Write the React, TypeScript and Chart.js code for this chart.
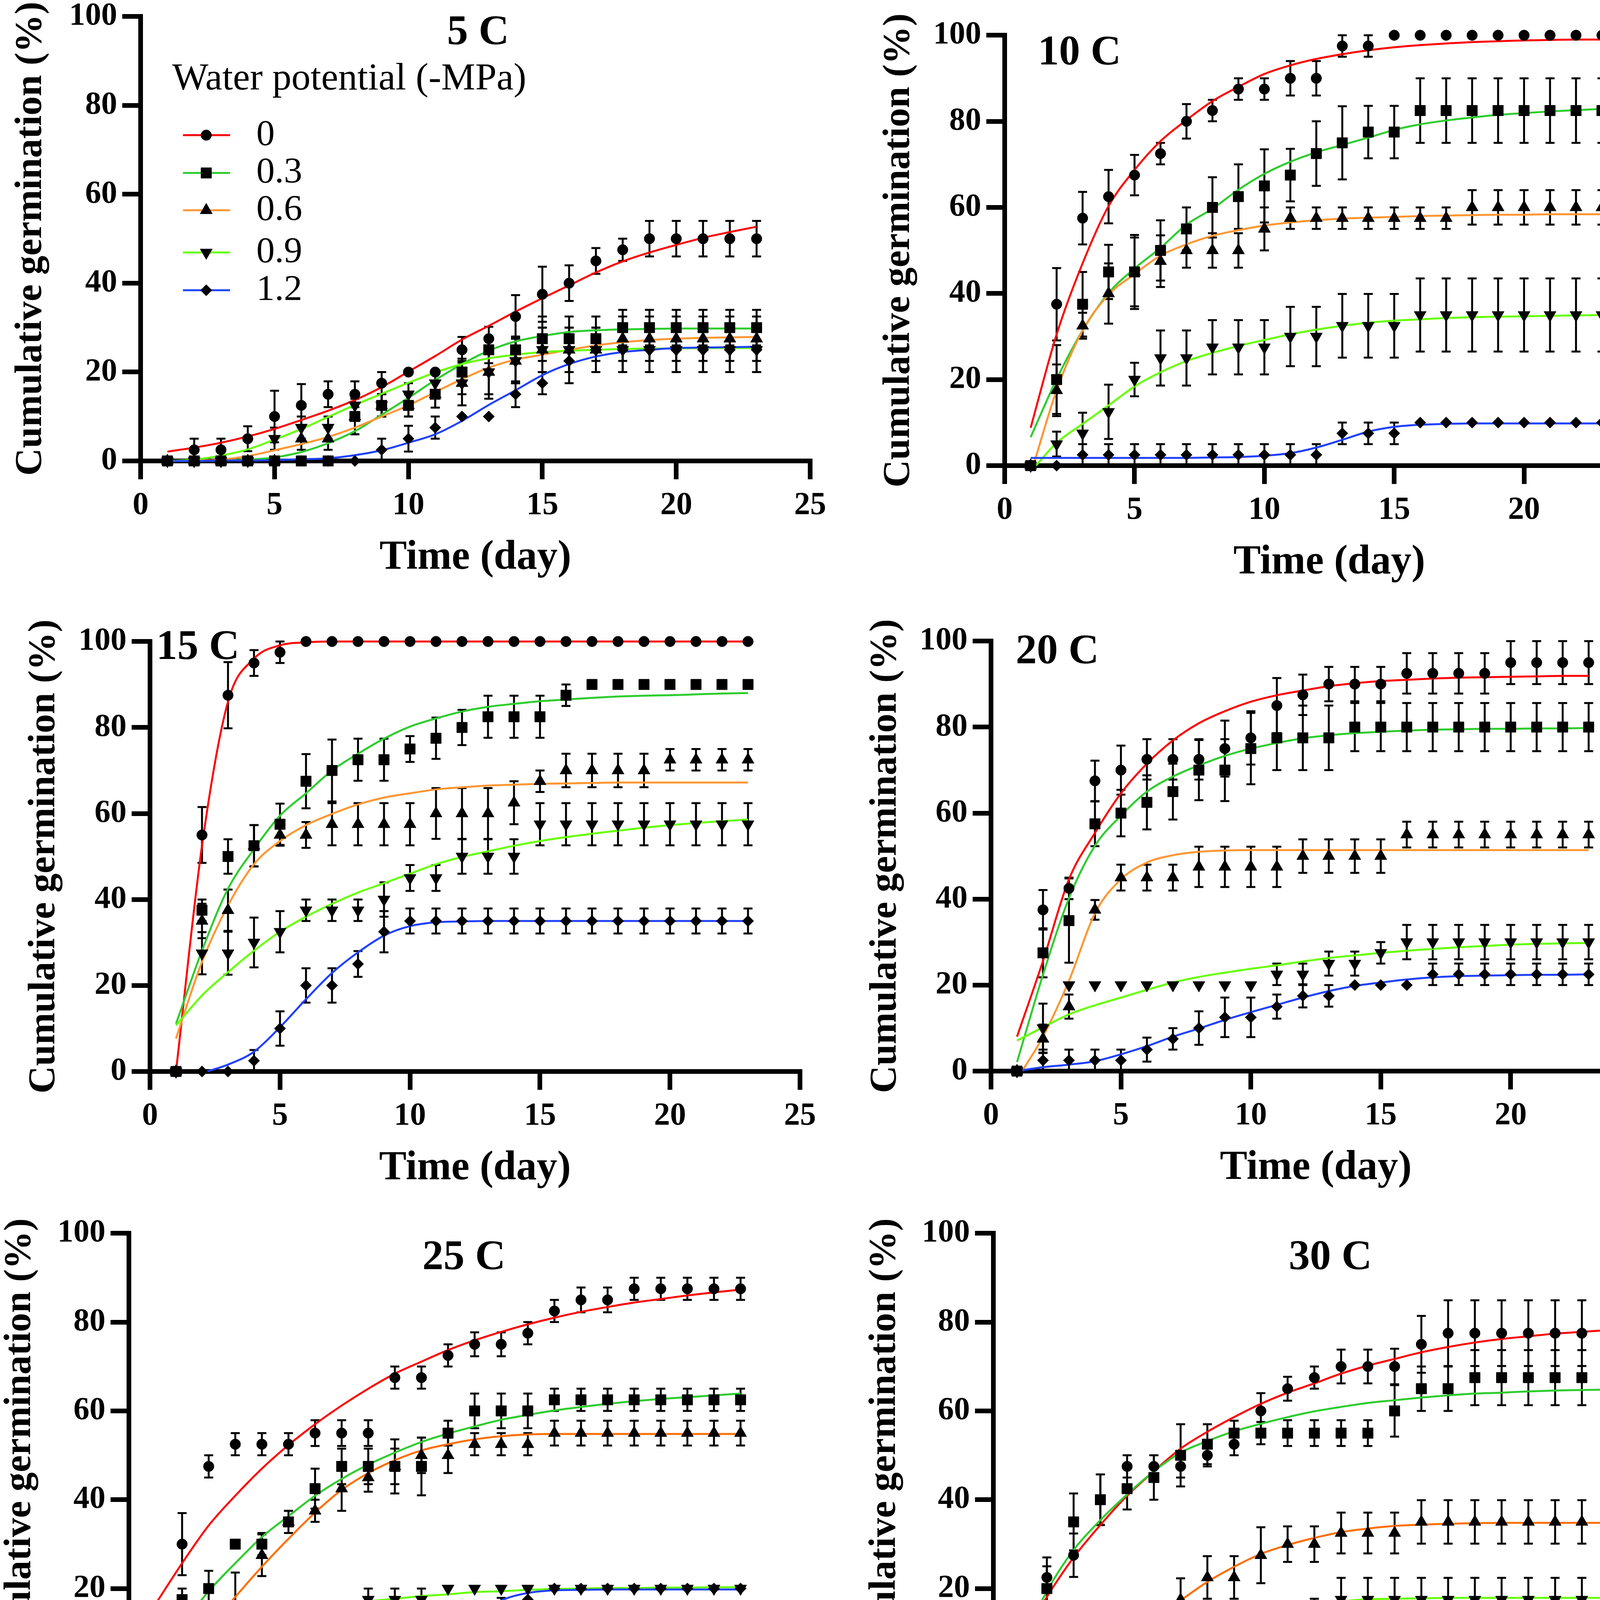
import React, { useEffect, useRef } from 'react';
import { Chart, registerables } from 'chart.js';
import { drawPoint } from 'chart.js/helpers';

Chart.register(...registerables);

const FONT = "'Liberation Serif', 'Times New Roman', Times, serif";

// ---------- shared categories / labels ----------
const DAYS = [1, 2, 3, 4, 5, 6, 7, 8, 9, 10, 11, 12, 13, 14, 15, 16, 17, 18, 19, 20, 21, 22, 23];
const WP_LABELS = ['0', '0.3', '0.6', '0.9', '1.2'];
const LEGEND_TITLE = 'Water potential (-MPa)';
const X_TITLE = 'Time (day)';
const Y_TITLE = 'Cumulative germination (%)';
const PANEL_TITLES = ['5 C', '10 C', '15 C', '20 C', '25 C', '30 C'];

// ---------- 5 C ----------
const M5_0 = [0, 2.5, 2.5, 5, 10, 12.5, 15, 15, 17.5, 20, 20, 25, 27.5, 32.5, 37.5, 40, 45, 47.5, 50, 50, 50, 50, 50];
const E5_0 = [0, 2.5, 2.5, 2.8, 5.8, 4.8, 2.9, 2.9, 2.5, 0, 0, 2.9, 2.7, 4.8, 6.2, 4, 2.9, 2.5, 4, 4, 4, 4, 4];
const M5_3 = [0, 0, 0, 0, 0, 0, 0, 10, 12.5, 12.5, 15, 20, 25, 25, 27.5, 27.5, 27.5, 30, 30, 30, 30, 30, 30];
const E5_3 = [0, 0, 0, 0, 0, 0, 0, 4, 2.5, 2.5, 3, 3, 3, 3, 5, 5, 5, 4, 4, 4, 4, 4, 4];
const M5_6 = [0, 0, 0, 0, 0, 5, 5, 10, 12.5, 12.5, 15, 17.5, 20, 22.5, 25, 25, 25, 27.5, 27.5, 27.5, 27.5, 27.5, 27.5];
const E5_6 = [0, 0, 0, 0, 0, 2.5, 2.5, 4, 2.5, 2.5, 3, 5, 6, 5, 5, 5, 5, 5, 5, 5, 5, 5, 5];
const M5_9 = [0, 0, 0, 0, 5, 7.5, 7.5, 12.5, 12.5, 15, 17.5, 17.5, 20, 22.5, 25, 25, 25, 25, 25, 25, 25, 25, 25];
const E5_9 = [0, 0, 0, 0, 2.5, 2.5, 2.5, 2.5, 2.5, 2.5, 2.5, 2.5, 5, 5, 5, 5, 5, 5, 5, 5, 5, 5, 5];
const M5_12 = [0, 0, 0, 0, 0, 0, 0, 0, 2.5, 5, 7.5, 10, 10, 15, 17.5, 22.5, 25, 25, 25, 25, 25, 25, 25];
const E5_12 = [0, 0, 0, 0, 0, 0, 0, 0, 2.5, 2.9, 2.5, 0, 0, 2.9, 2.5, 5, 5, 5, 5, 5, 5, 5, 5];
const C5_0 = [2.1, 3, 4.1, 5.5, 7.2, 9.2, 11.3, 13.7, 16.6, 20.1, 23.6, 27.3, 30.4, 33.6, 36.6, 39.5, 42.4, 44.9, 46.9, 48.6, 50.2, 51.5, 52.7];
const C5_3 = [0, 0, 0.1, 0.3, 0.8, 2, 4, 6.7, 10.4, 14.2, 18.2, 21.8, 24.8, 26.9, 28.1, 29, 29.4, 29.6, 29.7, 29.8, 29.8, 29.8, 29.8];
const C5_6 = [0, 0.1, 0.3, 1.1, 2.4, 3.8, 5.4, 7.5, 10, 12.5, 15.5, 18.4, 21, 22.8, 23.9, 25, 26, 26.7, 27.2, 27.5, 27.7, 27.8, 27.9];
const C5_9 = [0, 0.3, 1.2, 2.6, 4.8, 7.2, 9.9, 12.6, 15.1, 17.6, 19.9, 21.8, 23.1, 23.9, 24.5, 24.8, 25, 25.2, 25.3, 25.3, 25.4, 25.4, 25.4];
const C5_12 = [0, 0, 0.1, 0.1, 0.2, 0.4, 0.6, 1.3, 2.4, 4.1, 6, 9, 12.6, 15.9, 19.3, 21.8, 23.5, 24.5, 25, 25.4, 25.5, 25.6, 25.7];

// ---------- 10 C ----------
const M10_0 = [0, 37.5, 57.5, 62.5, 67.5, 72.5, 80, 82.5, 87.5, 87.5, 90, 90, 97.5, 97.5, 100, 100, 100, 100, 100, 100, 100, 100, 100];
const E10_0 = [0, 8.4, 6.1, 6.2, 4.7, 2.5, 4, 2.5, 2.5, 2.5, 4, 4, 2.5, 2.5, 0, 0, 0, 0, 0, 0, 0, 0, 0];
const M10_3 = [0, 20, 37.5, 45, 45, 50, 55, 60, 62.5, 65, 67.5, 72.5, 75, 77.5, 77.5, 82.5, 82.5, 82.5, 82.5, 82.5, 82.5, 82.5, 82.5];
const E10_3 = [0, 8, 7.5, 6.3, 8.6, 7, 5, 7, 7.5, 8.5, 6.1, 7.5, 8.5, 6.1, 6.1, 7.5, 7.5, 7.5, 7.5, 7.5, 7.5, 7.5, 7.5];
const M10_6 = [0, 17.5, 32.5, 40, 45, 47.5, 50, 50, 50, 55, 57.5, 57.5, 57.5, 57.5, 57.5, 57.5, 57.5, 60, 60, 60, 60, 60, 60];
const E10_6 = [0, 6, 3, 7, 8, 6, 4, 4, 4, 5, 2.5, 2.5, 2.5, 2.5, 2.5, 2.5, 2.5, 4, 4, 4, 4, 4, 4];
const M10_9 = [0, 5, 7.5, 12.5, 20, 25, 25, 27.5, 27.5, 27.5, 30, 30, 32.5, 32.5, 32.5, 35, 35, 35, 35, 35, 35, 35, 35];
const E10_9 = [0, 2.9, 4.8, 6.3, 3.9, 6.4, 6.4, 6.3, 6.3, 6.3, 6.9, 6.9, 7.4, 7.4, 7.4, 8.5, 8.5, 8.5, 8.5, 8.5, 8.5, 8.5, 8.5];
const M10_12 = [0, 0, 2.5, 2.5, 2.5, 2.5, 2.5, 2.5, 2.5, 2.5, 2.5, 2.5, 7.5, 7.5, 7.5, 10, 10, 10, 10, 10, 10, 10, 10];
const E10_12 = [0, 0, 2.5, 2.5, 2.5, 2.5, 2.5, 2.5, 2.5, 2.5, 2.5, 2.5, 2.5, 2.5, 2.5, 0, 0, 0, 0, 0, 0, 0, 0];
const C10_0 = [8.8, 30.5, 47, 60.3, 68.7, 75.4, 80.3, 84.7, 88, 91, 93, 94.5, 95.6, 96.5, 97.2, 97.7, 98.1, 98.4, 98.6, 98.8, 98.9, 99, 99];
const C10_3 = [6.6, 20.1, 31.4, 40.1, 45.8, 50.6, 56, 59.7, 64.1, 67.8, 70.6, 72.8, 74.5, 76.2, 78, 79.3, 80.2, 80.9, 81.5, 81.9, 82.3, 82.6, 82.9];
const X10_6 = [1.1, 2, 3, 4, 5, 6, 7, 8, 9, 10, 11, 12, 13, 14, 15, 16, 17, 18, 19, 20, 21, 22, 23];
const C10_6 = [0, 17.5, 31.4, 39.7, 44.5, 48.8, 51.4, 53.4, 54.7, 55.8, 56.5, 57, 57.4, 57.6, 57.8, 58, 58.1, 58.2, 58.3, 58.3, 58.4, 58.4, 58.4];
const X10_9 = [1.2, 2, 3, 4, 5, 6, 7, 8, 9, 10, 11, 12, 13, 14, 15, 16, 17, 18, 19, 20, 21, 22, 23];
const C10_9 = [0, 5.3, 9.7, 14, 18.4, 21.7, 24.3, 26.2, 27.8, 29.2, 30.5, 31.6, 32.5, 33.2, 33.7, 34, 34.3, 34.5, 34.6, 34.7, 34.8, 34.9, 35];
const C10_12 = [1.8, 1.8, 1.8, 1.8, 1.8, 1.8, 1.8, 1.9, 2, 2.3, 2.9, 4.2, 6, 7.9, 9, 9.5, 9.7, 9.8, 9.8, 9.8, 9.8, 9.8, 9.8];

// ---------- 15 C ----------
const M15_0 = [0, 55, 87.5, 95, 97.5, 100, 100, 100, 100, 100, 100, 100, 100, 100, 100, 100, 100, 100, 100, 100, 100, 100, 100];
const E15_0 = [0, 6.5, 7.7, 3, 2.5, 0, 0, 0, 0, 0, 0, 0, 0, 0, 0, 0, 0, 0, 0, 0, 0, 0, 0];
const M15_3 = [0, 37.5, 50, 52.5, 57.5, 67.5, 70, 72.5, 72.5, 75, 77.5, 80, 82.5, 82.5, 82.5, 87.5, 90, 90, 90, 90, 90, 90, 90];
const E15_3 = [0, 2.5, 4, 4.8, 4.8, 6.3, 7.2, 4.9, 4.9, 3, 4.8, 4.1, 4.9, 4.9, 4.9, 2.5, 0, 0, 0, 0, 0, 0, 0];
const M15_6 = [0, 35, 37.5, 52.5, 55, 55, 57.5, 57.5, 57.5, 57.5, 60, 60, 60, 62.5, 67.5, 70, 70, 70, 70, 72.5, 72.5, 72.5, 72.5];
const E15_6 = [0, 4, 4.8, 4.8, 2.5, 3, 4.9, 4.9, 4.9, 4.9, 5.9, 5.9, 5.9, 5, 2.5, 3.9, 3.9, 3.9, 3.9, 2.5, 2.5, 2.5, 2.5];
const M15_9 = [0, 27.5, 27.5, 30, 32.5, 37.5, 37.5, 37.5, 40, 45, 45, 50, 50, 50, 57.5, 57.5, 57.5, 57.5, 57.5, 57.5, 57.5, 57.5, 57.5];
const E15_9 = [0, 4.9, 5, 5.8, 4.8, 2.5, 2.5, 2.5, 4, 3, 3, 4, 4, 4, 4.9, 4.9, 4.9, 4.9, 4.9, 4.9, 4.9, 4.9, 4.9];
const M15_12 = [0, 0, 0, 2.5, 10, 20, 20, 25, 32.5, 35, 35, 35, 35, 35, 35, 35, 35, 35, 35, 35, 35, 35, 35];
const E15_12 = [0, 0, 0, 2.5, 4, 4, 4, 3, 4.8, 2.9, 2.9, 2.9, 2.9, 2.9, 2.9, 2.9, 2.9, 2.9, 2.9, 2.9, 2.9, 2.9, 2.9];
const C15_0 = [0, 52.5, 86, 96, 99.1, 99.8, 100, 100, 100, 100, 100, 100, 100, 100, 100, 100, 100, 100, 100, 100, 100, 100, 100];
const C15_3 = [11.1, 28.1, 42.5, 51.7, 59.5, 64.7, 70, 73.9, 77.4, 80.2, 82.1, 83.7, 84.8, 85.5, 86.1, 86.5, 86.9, 87.2, 87.4, 87.5, 87.7, 87.9, 88];
const C15_6 = [7.7, 25.5, 38.6, 48.2, 53.6, 57.3, 59.9, 62.1, 63.7, 64.7, 65.6, 66.1, 66.5, 66.7, 66.9, 67, 67.1, 67.2, 67.2, 67.2, 67.2, 67.2, 67.2];
const C15_9 = [10.7, 17.7, 23.1, 28.1, 32.5, 36, 39, 41.6, 43.8, 46, 48.2, 49.9, 51.2, 52.5, 53.6, 54.5, 55.3, 56, 56.7, 57.3, 57.8, 58.2, 58.6];
const X15_12 = [2.2, 3, 4, 5, 6, 7, 8, 9, 10, 11, 12, 13, 14, 15, 16, 17, 18, 19, 20, 21, 22, 23];
const C15_12 = [0, 1.6, 4.6, 10.3, 16.8, 22.9, 27.7, 31.6, 33.8, 34.7, 34.9, 35, 35, 35, 35, 35, 35, 35, 35, 35, 35, 35];

// ---------- 20 C ----------
const M20_0 = [0, 37.5, 42.5, 67.5, 70, 72.5, 72.5, 72.5, 75, 77.5, 85, 87.5, 90, 90, 90, 92.5, 92.5, 92.5, 92.5, 95, 95, 95, 95];
const E20_0 = [0, 4.6, 2.5, 4.7, 5.7, 4.7, 4.7, 4.7, 6.5, 6.2, 6.4, 4.7, 4, 4, 4, 4.7, 4.7, 4.7, 4.7, 5, 5, 5, 5];
const M20_3 = [0, 27.5, 35, 57.5, 60, 62.5, 65, 70, 70, 75, 77.5, 77.5, 77.5, 80, 80, 80, 80, 80, 80, 80, 80, 80, 80];
const E20_3 = [0, 5.7, 9.8, 5.2, 5.4, 6.3, 6.5, 7, 7.2, 8.3, 7.5, 7.5, 7.5, 5.6, 5.6, 5.6, 5.6, 5.6, 5.6, 5.6, 5.6, 5.6, 5.6];
const M20_6 = [0, 7.5, 15, 37.5, 45, 45, 45, 47.5, 47.5, 47.5, 47.5, 50, 50, 50, 50, 55, 55, 55, 55, 55, 55, 55, 55];
const E20_6 = [0, 3.3, 2.8, 2.3, 3, 3, 3, 4.7, 4.7, 4.7, 4.7, 3.9, 3.9, 3.9, 3.9, 3, 3, 3, 3, 3, 3, 3, 3];
const M20_9 = [0, 10, 20, 20, 20, 20, 20, 20, 20, 20, 22.5, 22.5, 25, 25, 27.5, 30, 30, 30, 30, 30, 30, 30, 30];
const E20_9 = [0, 5.7, 0, 0, 0, 0, 0, 0, 0, 0, 2.5, 2.5, 2.8, 2.8, 2.5, 4, 4, 4, 4, 4, 4, 4, 4];
const M20_12 = [0, 2.5, 2.5, 2.5, 2.5, 5, 7.5, 10, 12.5, 12.5, 15, 17.5, 17.5, 20, 20, 20, 22.5, 22.5, 22.5, 22.5, 22.5, 22.5, 22.5];
const E20_12 = [0, 2.5, 2.5, 2.5, 2.5, 2.8, 2.5, 3.9, 4.6, 4.6, 2.8, 2.7, 2.5, 0, 0, 0, 2.5, 2.5, 2.5, 2.5, 2.5, 2.5, 2.5];
const C20_0 = [8, 25.6, 44.6, 55.4, 64.6, 71.5, 76.9, 80.9, 83.7, 85.9, 87.4, 88.5, 89.5, 90.2, 90.7, 91, 91.3, 91.5, 91.6, 91.7, 91.8, 91.9, 91.9];
const C20_3 = [2.1, 22.4, 40.2, 52.4, 59.4, 65, 68.5, 71.1, 73.3, 75, 76.3, 77.4, 78.1, 78.6, 78.9, 79.2, 79.4, 79.5, 79.6, 79.6, 79.7, 79.7, 79.8];
const X20_6 = [1.2, 2, 3, 4, 5, 6, 7, 8, 9, 10, 11, 12, 13, 14, 15, 16, 17, 18, 19, 20, 21, 22, 23];
const C20_6 = [0, 8, 21, 36.7, 44.6, 48.5, 50.2, 51, 51.3, 51.4, 51.4, 51.4, 51.4, 51.4, 51.4, 51.4, 51.4, 51.4, 51.4, 51.4, 51.4, 51.4, 51.4];
const C20_9 = [7.1, 10.2, 13.2, 15.3, 17.1, 18.9, 20.6, 21.9, 22.9, 23.8, 24.6, 25.5, 26.3, 26.9, 27.5, 28, 28.4, 28.8, 29.1, 29.4, 29.6, 29.7, 29.8];
const C20_12 = [0, 0.9, 1.5, 2.3, 3.9, 5.8, 8, 9.9, 11.9, 13.7, 15.4, 17.1, 18.6, 19.8, 20.6, 21.3, 21.8, 22.1, 22.2, 22.3, 22.4, 22.4, 22.5];

// ---------- 25 C ----------
const M25_0 = [0, 30, 47.5, 52.5, 52.5, 52.5, 55, 55, 55, 67.5, 67.5, 72.5, 75, 75, 77.5, 82.5, 85, 85, 87.5, 87.5, 87.5, 87.5, 87.5];
const E25_0 = [0, 7, 2.5, 2.5, 2.5, 2.5, 2.9, 2.9, 2.9, 2.5, 2.5, 2.5, 2.7, 2.7, 2.5, 2.5, 2.8, 2.8, 2.5, 2.5, 2.5, 2.5, 2.5];
const M25_3 = [0, 17.5, 20, 30, 30, 35, 42.5, 47.5, 47.5, 47.5, 47.5, 55, 60, 60, 60, 62.5, 62.5, 62.5, 62.5, 62.5, 62.5, 62.5, 62.5];
const E25_3 = [0, 2.5, 4, 0, 2.5, 2.5, 4.5, 4, 4, 6.1, 6.5, 2.8, 3.9, 3.9, 3.9, 2.5, 2.5, 2.5, 2.5, 2.5, 2.5, 2.5, 2.5];
const M25_6 = [0, 2.5, 10, 15, 27.5, 35, 37.5, 42.5, 45, 47.5, 50, 50, 52.5, 52.5, 52.5, 55, 55, 55, 55, 55, 55, 55, 55];
const E25_6 = [0, 2.5, 7, 8.6, 4.7, 2.5, 2.5, 5, 3.2, 4, 4, 4, 2.5, 2.5, 2.5, 2.8, 2.8, 2.8, 2.8, 2.8, 2.8, 2.8, 2.8];
const M25_9 = [0, 10, 12.5, 12.5, 12.5, 12.5, 12.5, 12.5, 17.5, 17.5, 17.5, 20, 20, 20, 20, 20, 20, 20, 20, 20, 20, 20, 20];
const E25_9 = [0, 0, 4, 2.5, 2.5, 2.5, 2.5, 2.5, 2.5, 2.5, 2.5, 0, 0, 0, 0, 0, 0, 0, 0, 0, 0, 0, 0];
const M25_12 = [0, 0, 0, 0, 0, 0, 0, 0, 0, 0, 0, 12.5, 12.5, 15, 17.5, 20, 20, 20, 20, 20, 20, 20, 20];
const E25_12 = [0, 0, 0, 0, 0, 0, 0, 0, 0, 0, 0, 2.5, 2.5, 2.9, 2.5, 0, 0, 0, 0, 0, 0, 0, 0];
const C25_0 = [16.5, 25.7, 34.2, 40.9, 47, 52.3, 57, 61.2, 65, 68.4, 71.1, 73.7, 75.9, 77.8, 79.5, 81, 82.3, 83.4, 84.4, 85.2, 86, 86.7, 87.3];
const C25_3 = [3.8, 11.8, 19.4, 25.7, 31.6, 36.3, 40.9, 44.7, 47.9, 50.6, 53, 54.9, 56.5, 58, 59.1, 60.1, 60.9, 61.6, 62.2, 62.7, 63.1, 63.5, 63.9];
const X25_6 = [1.4, 2, 3, 4, 5, 6, 7, 8, 9, 10, 11, 12, 13, 14, 15, 16, 17, 18, 19, 20, 21, 22, 23];
const C25_6 = [0, 3.8, 11, 18.1, 24.9, 31.2, 37.1, 42.2, 46, 48.9, 51.1, 52.5, 53.6, 54.3, 54.7, 54.8, 54.8, 54.8, 54.8, 54.8, 54.8, 54.8, 54.8];
const C25_9 = [3.5, 6.8, 8.9, 11, 12.7, 14.2, 15.4, 16.3, 17.1, 17.7, 18.3, 18.7, 19.2, 19.4, 19.7, 19.9, 20, 20.1, 20.1, 20.2, 20.2, 20.3, 20.3];
const X25_12 = [8.3, 9, 10, 11, 12, 13, 14, 15, 16, 17, 18, 19, 20, 21, 22, 23];
const C25_12 = [0, 0.2, 1.3, 3.8, 8.4, 13.5, 17.3, 19, 19.6, 19.7, 19.8, 19.8, 19.8, 19.8, 19.8, 19.8];

// ---------- 30 C ----------
const M30_0 = [0, 22.5, 27.5, 40, 47.5, 47.5, 47.5, 50, 52.5, 60, 65, 67.5, 70, 70, 70, 75, 77.5, 77.5, 77.5, 77.5, 77.5, 77.5, 77.5];
const E30_0 = [0, 2.5, 4.9, 5.7, 2.5, 2.5, 2.5, 2.5, 2.5, 4, 2.7, 2.5, 3.8, 3.8, 4, 6.4, 7.4, 7.4, 7.4, 7.4, 7.4, 7.4, 7.4];
const M30_3 = [0, 20, 35, 40, 42.5, 45, 50, 52.5, 55, 55, 55, 55, 55, 55, 60, 65, 65, 67.5, 67.5, 67.5, 67.5, 67.5, 67.5];
const E30_3 = [0, 7, 6.4, 5.7, 4.7, 5, 7, 4.5, 2.8, 2.5, 2.9, 2.9, 2.9, 2.9, 5.8, 5, 5, 6.2, 6.2, 6.2, 6.2, 6.2, 6.2];
const M30_6 = [0, 2.5, 5, 7.5, 7.5, 10, 17.5, 22.5, 22.5, 27.5, 30, 30, 32.5, 32.5, 32.5, 35, 35, 35, 35, 35, 35, 35, 35];
const E30_6 = [0, 2.5, 5, 7.4, 7.4, 6.9, 4.8, 4.8, 4.8, 6.3, 4, 4, 4.6, 4.6, 4.6, 4.9, 4.9, 4.9, 4.9, 4.9, 4.9, 4.9, 4.9];
const M30_9 = [0, 0, 0, 0, 0, 5, 5, 5, 7.5, 7.5, 12.5, 15, 17.5, 17.5, 17.5, 17.5, 17.5, 17.5, 17.5, 17.5, 17.5, 17.5, 17.5];
const E30_9 = [0, 0, 0, 0, 0, 2.5, 2.5, 2.5, 4.7, 4.7, 2.5, 2.7, 4.9, 4.9, 4.9, 4.9, 4.9, 4.9, 4.9, 4.9, 4.9, 4.9, 4.9];
const M30_12 = [0, 0, 0, 0, 0, 0, 0, 0, 0, 0, 2.5, 10, 12.5, 12.5, 12.5, 15, 15, 15, 15, 15, 15, 15, 15];
const E30_12 = [0, 0, 0, 0, 0, 0, 0, 0, 0, 0, 2.5, 0, 2.5, 2.5, 2.5, 2.5, 2.5, 2.5, 2.5, 2.5, 2.5, 2.5, 2.5];
const C30_0 = [7.6, 18.1, 27, 34.3, 40.9, 46.4, 51.5, 55.3, 58.6, 61.6, 64.1, 66.2, 68.4, 70.2, 71.7, 73.2, 74.4, 75.4, 76.2, 76.8, 77.4, 77.8, 78.2];
const C30_3 = [6.8, 19.4, 28.7, 35.4, 41.2, 46.4, 50.6, 53.2, 55.4, 57.1, 58.6, 59.9, 60.9, 61.8, 62.4, 63, 63.5, 63.9, 64.1, 64.4, 64.6, 64.7, 64.8];
const C30_6 = [1, 2.1, 3.8, 6.1, 9, 12.7, 17.3, 21.5, 24.9, 27.8, 29.8, 31.4, 32.7, 33.5, 34.1, 34.4, 34.6, 34.7, 34.8, 34.8, 34.8, 34.8, 34.8];
const C30_9 = [0.2, 0.3, 0.4, 0.7, 1, 1.7, 3.4, 5.9, 8.9, 11.8, 14.3, 16.2, 17.1, 17.6, 17.7, 17.8, 17.9, 17.9, 17.9, 17.9, 17.9, 17.9, 17.9];
const X30_12 = [7, 8, 9, 10, 11, 12, 13, 14, 15, 16, 17, 18, 19, 20, 21, 22, 23];
const C30_12 = [0, 0, 0, 0.3, 3.4, 9.5, 13.1, 14.2, 14.3, 14.3, 14.3, 14.3, 14.3, 14.3, 14.3, 14.3, 14.3];

// ---------- styling ----------
const COLORS_A = ['#FF0000', '#2ECC2E', '#FF9632', '#66FF00', '#2040FF'];
const COLORS_B = ['#FF0000', '#2ECC2E', '#FF6E00', '#66FF00', '#2040FF'];
const MARKERS = [
  { style: 'circle', radius: 13.5, rotation: 0 },
  { style: 'rect', radius: 19, rotation: 0 },
  { style: 'triangle', radius: 18, rotation: 0 },
  { style: 'triangle', radius: 18, rotation: 180 },
  { style: 'rectRot', radius: 14.5, rotation: 0 },
];

const PAD_TOP = 60;
const PAD_RIGHT = 70;
const HX = 312;
const Y_TITLE_SIZE = 98;
const X_TITLE_SIZE = 105;
const TICK_SIZE = 82;

type Curve = { xs: number[]; ys: number[] };
type PanelDef = {
  title: string;
  titlePos: { x: number; y: number; align: CanvasTextAlign };
  means: number[][];
  errs: number[][];
  curves: Curve[];
  colors: string[];
  box: { x0: number; x25: number; y100: number; y0: number; yTitleX: number };
  legend: boolean;
};

const PANELS: PanelDef[] = [
  {
    title: PANEL_TITLES[0],
    titlePos: { x: 12.6, y: 93.8, align: 'center' },
    means: [M5_0, M5_3, M5_6, M5_9, M5_12],
    errs: [E5_0, E5_3, E5_6, E5_9, E5_12],
    curves: [
      { xs: DAYS, ys: C5_0 }, { xs: DAYS, ys: C5_3 }, { xs: DAYS, ys: C5_6 },
      { xs: DAYS, ys: C5_9 }, { xs: DAYS, ys: C5_12 },
    ],
    colors: COLORS_A,
    box: { x0: 360, x25: 2074, y100: 40, y0: 1180, yTitleX: 80 },
    legend: true,
  },
  {
    title: PANEL_TITLES[1],
    titlePos: { x: 1.28, y: 93.2, align: 'left' },
    means: [M10_0, M10_3, M10_6, M10_9, M10_12],
    errs: [E10_0, E10_3, E10_6, E10_9, E10_12],
    curves: [
      { xs: DAYS, ys: C10_0 }, { xs: DAYS, ys: C10_3 }, { xs: X10_6, ys: C10_6 },
      { xs: X10_9, ys: C10_9 }, { xs: DAYS, ys: C10_12 },
    ],
    colors: COLORS_A,
    box: { x0: 2572, x25: 4234, y100: 88, y0: 1192, yTitleX: 2302 },
    legend: false,
  },
  {
    title: PANEL_TITLES[2],
    titlePos: { x: 0.24, y: 95.9, align: 'left' },
    means: [M15_0, M15_3, M15_6, M15_9, M15_12],
    errs: [E15_0, E15_3, E15_6, E15_9, E15_12],
    curves: [
      { xs: DAYS, ys: C15_0 }, { xs: DAYS, ys: C15_3 }, { xs: DAYS, ys: C15_6 },
      { xs: DAYS, ys: C15_9 }, { xs: X15_12, ys: C15_12 },
    ],
    colors: COLORS_A,
    box: { x0: 384, x25: 2048, y100: 1640, y0: 2743, yTitleX: 114 },
    legend: false,
  },
  {
    title: PANEL_TITLES[3],
    titlePos: { x: 0.95, y: 94.8, align: 'left' },
    means: [M20_0, M20_3, M20_6, M20_9, M20_12],
    errs: [E20_0, E20_3, E20_6, E20_9, E20_12],
    curves: [
      { xs: DAYS, ys: C20_0 }, { xs: DAYS, ys: C20_3 }, { xs: X20_6, ys: C20_6 },
      { xs: DAYS, ys: C20_9 }, { xs: DAYS, ys: C20_12 },
    ],
    colors: COLORS_A,
    box: { x0: 2537, x25: 4200, y100: 1639, y0: 2742, yTitleX: 2268 },
    legend: false,
  },
  {
    title: PANEL_TITLES[4],
    titlePos: { x: 12.6, y: 91.9, align: 'center' },
    means: [M25_0, M25_3, M25_6, M25_9, M25_12],
    errs: [E25_0, E25_3, E25_6, E25_9, E25_12],
    curves: [
      { xs: DAYS, ys: C25_0 }, { xs: DAYS, ys: C25_3 }, { xs: X25_6, ys: C25_6 },
      { xs: DAYS, ys: C25_9 }, { xs: X25_12, ys: C25_12 },
    ],
    colors: COLORS_B,
    box: { x0: 330, x25: 2032, y100: 3155, y0: 4294, yTitleX: 52 },
    legend: false,
  },
  {
    title: PANEL_TITLES[5],
    titlePos: { x: 12.6, y: 91.9, align: 'center' },
    means: [M30_0, M30_3, M30_6, M30_9, M30_12],
    errs: [E30_0, E30_3, E30_6, E30_9, E30_12],
    curves: [
      { xs: DAYS, ys: C30_0 }, { xs: DAYS, ys: C30_3 }, { xs: DAYS, ys: C30_6 },
      { xs: DAYS, ys: C30_9 }, { xs: X30_12, ys: C30_12 },
    ],
    colors: COLORS_B,
    box: { x0: 2543, x25: 4255, y100: 3155, y0: 4294, yTitleX: 2266 },
    legend: false,
  },
];

// legend placement (in data units of the 5 C panel)
const LEGEND_POS = { titleX: 1.18, titleY: 83.6, lineX1: 1.58, lineX2: 3.34, markX: 2.45, labelX: 4.32 };
const LEGEND_ROWS = [73.3, 64.8, 56.4, 46.9, 38.4];

function Panel({ def }: { def: PanelDef }) {
  const ref = useRef<HTMLCanvasElement>(null);
  const { x0, x25, y100, y0, yTitleX } = def.box;
  const left = Math.round(yTitleX - (Y_TITLE_SIZE * 1.2) / 2);
  const wy = x0 - left;
  const top = y100 - PAD_TOP;
  const width = wy + (x25 - x0) + PAD_RIGHT;
  const height = PAD_TOP + (y0 - y100) + HX;

  useEffect(() => {
    const canvas = ref.current;
    if (!canvas) return;

    const errorPlugin = {
      id: 'errorBars',
      beforeDatasetsDraw(chart: any) {
        const { ctx } = chart;
        const xs = chart.scales.x;
        const ys = chart.scales.y;
        ctx.save();
        ctx.strokeStyle = '#000';
        ctx.lineWidth = 5;
        ctx.lineCap = 'butt';
        def.means.forEach((mean, si) => {
          const err = def.errs[si];
          DAYS.forEach((d, i) => {
            const e = err[i];
            if (!e) return;
            const px = xs.getPixelForValue(d);
            const pt = ys.getPixelForValue(mean[i] + e);
            const pb = ys.getPixelForValue(mean[i] - e);
            ctx.beginPath();
            ctx.moveTo(px, pt);
            ctx.lineTo(px, pb);
            ctx.moveTo(px - 11.5, pt);
            ctx.lineTo(px + 11.5, pt);
            ctx.moveTo(px - 11.5, pb);
            ctx.lineTo(px + 11.5, pb);
            ctx.stroke();
          });
        });
        ctx.restore();
      },
    };

    const textPlugin = {
      id: 'panelText',
      afterDraw(chart: any) {
        const { ctx } = chart;
        const xs = chart.scales.x;
        const ys = chart.scales.y;
        ctx.save();
        ctx.fillStyle = '#000';
        ctx.font = `bold 108px ${FONT}`;
        ctx.textAlign = def.titlePos.align;
        ctx.textBaseline = 'alphabetic';
        ctx.fillText(def.title, xs.getPixelForValue(def.titlePos.x), ys.getPixelForValue(def.titlePos.y));
        if (def.legend) {
          ctx.font = `98px ${FONT}`;
          ctx.textAlign = 'left';
          ctx.fillText(LEGEND_TITLE, xs.getPixelForValue(LEGEND_POS.titleX), ys.getPixelForValue(LEGEND_POS.titleY));
          LEGEND_ROWS.forEach((ry, i) => {
            const py = ys.getPixelForValue(ry);
            ctx.strokeStyle = def.colors[i];
            ctx.lineWidth = 5;
            ctx.beginPath();
            ctx.moveTo(xs.getPixelForValue(LEGEND_POS.lineX1), py);
            ctx.lineTo(xs.getPixelForValue(LEGEND_POS.lineX2), py);
            ctx.stroke();
            ctx.fillStyle = '#000';
            ctx.strokeStyle = '#000';
            ctx.lineWidth = 1;
            drawPoint(
              ctx,
              { pointStyle: MARKERS[i].style as any, radius: MARKERS[i].radius, rotation: MARKERS[i].rotation, borderWidth: 1 } as any,
              xs.getPixelForValue(LEGEND_POS.markX),
              py
            );
            ctx.font = `94px ${FONT}`;
            ctx.textBaseline = 'middle';
            ctx.fillText(WP_LABELS[i], xs.getPixelForValue(LEGEND_POS.labelX), py);
          });
        }
        ctx.restore();
      },
    };

    const datasets: any[] = [];
    def.curves.forEach((c, i) => {
      datasets.push({
        type: 'line',
        label: 'fit ' + WP_LABELS[i],
        data: c.xs.map((x, k) => ({ x, y: c.ys[k] })),
        borderColor: def.colors[i],
        borderWidth: 5,
        pointRadius: 0,
        fill: false,
        cubicInterpolationMode: 'monotone',
        clip: false,
        order: 20 - i,
      });
    });
    def.means.forEach((m, i) => {
      datasets.push({
        type: 'line',
        label: WP_LABELS[i],
        data: DAYS.map((d, k) => ({ x: d, y: m[k] })),
        showLine: false,
        pointStyle: MARKERS[i].style,
        pointRadius: MARKERS[i].radius,
        pointRotation: MARKERS[i].rotation,
        pointBackgroundColor: '#000',
        pointBorderColor: '#000',
        pointBorderWidth: 1,
        clip: false,
        order: 10 - i,
      });
    });

    const tickFont = { family: FONT, size: TICK_SIZE, weight: 'bold' as const };
    const gridOpts = {
      display: true,
      drawOnChartArea: false,
      drawTicks: true,
      tickLength: 47,
      tickWidth: 12,
      tickColor: '#000',
      color: '#000',
      lineWidth: 12,
    };
    const borderOpts = { display: true, color: '#000', width: 12 };

    const chart = new Chart(canvas, {
      type: 'line',
      data: { datasets },
      options: {
        animation: false,
        responsive: false,
        devicePixelRatio: 1,
        events: [],
        layout: { padding: { top: PAD_TOP, right: PAD_RIGHT, left: 0, bottom: 0 } },
        plugins: { legend: { display: false }, tooltip: { enabled: false } },
        scales: {
          x: {
            type: 'linear',
            min: 0,
            max: 25,
            ticks: { stepSize: 5, font: tickFont, color: '#000', padding: 19 },
            grid: gridOpts,
            border: borderOpts,
            title: { display: true, text: X_TITLE, color: '#000', padding: 0, font: { family: FONT, size: X_TITLE_SIZE, weight: 'bold' } },
            afterFit: (s: any) => { s.height = HX; },
          },
          y: {
            type: 'linear',
            min: 0,
            max: 100,
            ticks: { stepSize: 20, font: tickFont, color: '#000', padding: 13 },
            grid: gridOpts,
            border: borderOpts,
            title: { display: true, text: Y_TITLE, color: '#000', padding: 0, font: { family: FONT, size: Y_TITLE_SIZE, weight: 'bold' } },
            afterFit: (s: any) => { s.width = wy; },
          },
        },
      } as any,
      plugins: [errorPlugin, textPlugin],
    });
    return () => chart.destroy();
  }, []);

  return (
    <canvas
      ref={ref}
      width={width}
      height={height}
      style={{ position: 'absolute', left, top, width, height }}
    />
  );
}

export default function App() {
  return (
    <div style={{ position: 'absolute', left: 0, top: 0, width: 4297, height: 4604, background: '#fff', overflow: 'hidden' }}>
      {PANELS.map((p, i) => (
        <Panel key={i} def={p} />
      ))}
    </div>
  );
}
